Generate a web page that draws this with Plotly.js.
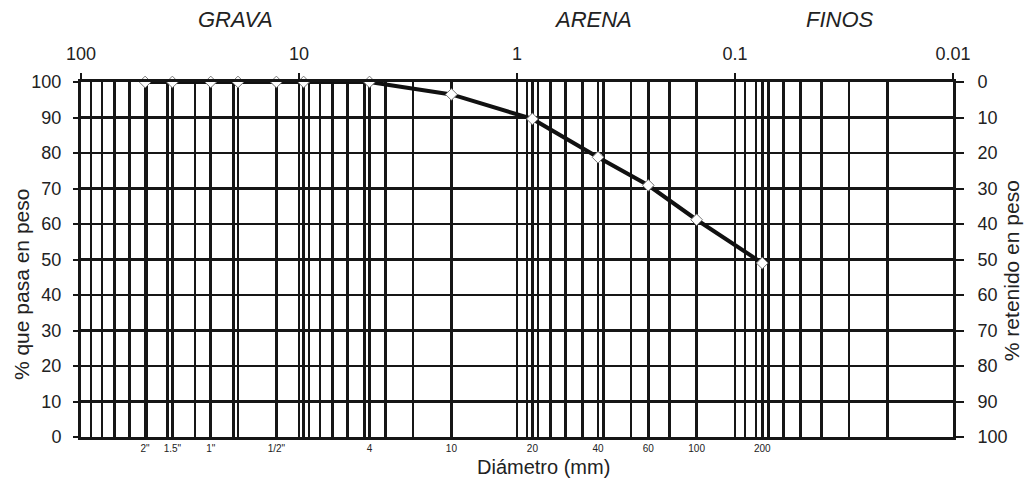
<!DOCTYPE html>
<html>
<head>
<meta charset="utf-8">
<script src="https://cdn.plot.ly/plotly-3.0.1.min.js"></script>
<style>html,body{margin:0;padding:0;background:#fff;}#chart{width:1025px;height:487px;}</style>
</head>
<body>
<div id="chart"></div>
<script>
// Sieve sizes (mm) and their labels
const sieveSizes  = [50.8, 38.1, 25.4, 19.05, 12.7, 9.525, 4.75, 2.0, 0.85, 0.425, 0.25, 0.15, 0.075];
const sieveLabels = ['2"', '1.5"', '1"', '', '1/2"', '', '4', '10', '20', '40', '60', '100', '200'];
// Percent passing for each sieve
const passing     = [100, 100, 100, 100, 100, 100, 100, 96.5, 89.6, 78.8, 70.9, 61.2, 49.0];
// Top decade labels
const topTicks    = [100, 10, 1, 0.1, 0.01];
const topLabels   = ['100', '10', '1', '0.1', '0.01'];
// Soil classes shown above the chart
const classNames  = ['GRAVA', 'ARENA', 'FINOS'];
const classCenter = [19.5, 0.45, 0.033];   // diameter (mm) at which each class name is centred

const retained = passing.map(v => 100 - v);

// log grid: 1..9 x each decade between 0.01 and 100 (skip values that are sieve sizes)
const gridVals = [];
for (let e = -2; e <= 1; e++) {
  for (let m = 1; m <= 9; m++) {
    const v = +(m * Math.pow(10, e)).toPrecision(6);
    if (!sieveSizes.some(s => Math.abs(s - v) < 1e-9)) gridVals.push(v);
  }
}
gridVals.push(100);
const tickVals = gridVals.concat(sieveSizes);
const tickText = gridVals.map(() => '').concat(sieveLabels);

const FONT = 'Liberation Sans, Arial, sans-serif';
const TXT = '#222';
const LINE = '#161616';

const traces = [
  {
    x: sieveSizes, y: passing, xaxis: 'x', yaxis: 'y',
    type: 'scatter', mode: 'lines+markers', cliponaxis: false,
    line: {color: '#111', width: 4},
    marker: {symbol: 'diamond', size: 9, color: '#fff', line: {color: '#777', width: 1}},
    hoverinfo: 'x+y'
  },
  {
    x: sieveSizes, y: retained, xaxis: 'x2', yaxis: 'y2',
    type: 'scatter', mode: 'none', hoverinfo: 'skip', showlegend: false
  }
];

const annotations = classNames.map((n, i) => ({
  text: '<i>' + n + '</i>', xref: 'x2', yref: 'paper',
  x: Math.log10(classCenter[i]), y: 1, yshift: 48, yanchor: 'bottom', showarrow: false,
  font: {family: FONT, size: 22, color: TXT}
}));
annotations.push(
  {text: '% que pasa en peso', xref: 'paper', yref: 'paper', x: -0.0688, y: 0.428,
   textangle: -90, showarrow: false, xanchor: 'center', yanchor: 'middle',
   font: {family: FONT, size: 21, color: TXT}},
  {text: '% retenido en peso', xref: 'paper', yref: 'paper', x: 1.0665, y: 0.470,
   textangle: -90, showarrow: false, xanchor: 'center', yanchor: 'middle',
   font: {family: FONT, size: 21, color: TXT}},
  {text: 'Diámetro (mm)', xref: 'paper', yref: 'paper', x: 0.53, y: 0, yshift: -30,
   showarrow: false, xanchor: 'center', yanchor: 'middle',
   font: {family: FONT, size: 20, color: TXT}}
);

const layout = {
  width: 1025, height: 487,
  margin: {l: 81, r: 72, t: 82, b: 50},
  paper_bgcolor: '#fff', plot_bgcolor: '#fff',
  showlegend: false,
  font: {family: FONT, color: TXT},
  xaxis: {
    type: 'log', range: [2, -2], autorange: false,
    tickmode: 'array', tickvals: tickVals, ticktext: tickText,
    ticks: '', tickfont: {size: 10, color: TXT},
    showgrid: true, gridcolor: LINE, gridwidth: 2.6,
    showline: true, linecolor: LINE, linewidth: 3,
    zeroline: false, ticklabelstandoff: 0
  },
  xaxis2: {
    type: 'log', range: [2, -2], autorange: false, overlaying: 'x', side: 'top', anchor: 'y',
    tickmode: 'array', tickvals: topTicks, ticktext: topLabels,
    ticks: 'outside', ticklen: 6, tickwidth: 2, tickcolor: LINE,
    tickfont: {size: 18, color: TXT}, ticklabelstandoff: 6,
    showgrid: false, showline: true, linecolor: LINE, linewidth: 3, zeroline: false
  },
  yaxis: {
    range: [0, 100], autorange: false, dtick: 10, tick0: 0,
    ticks: 'outside', ticklen: 5, tickwidth: 2, tickcolor: LINE,
    tickfont: {size: 18, color: TXT}, ticklabelstandoff: 8,
    showgrid: true, gridcolor: LINE, gridwidth: 2.6,
    showline: true, linecolor: LINE, linewidth: 3, zeroline: false
  },
  yaxis2: {
    range: [100, 0], autorange: false, dtick: 10, tick0: 0, overlaying: 'y', side: 'right', anchor: 'x',
    ticks: 'outside', ticklen: 8, tickwidth: 2, tickcolor: LINE,
    tickfont: {size: 18, color: TXT}, ticklabelstandoff: 10,
    showgrid: false, showline: true, linecolor: LINE, linewidth: 3, zeroline: false
  },
  annotations: annotations
};

Plotly.newPlot('chart', traces, layout, {displayModeBar: false, staticPlot: true});
</script>
</body>
</html>
